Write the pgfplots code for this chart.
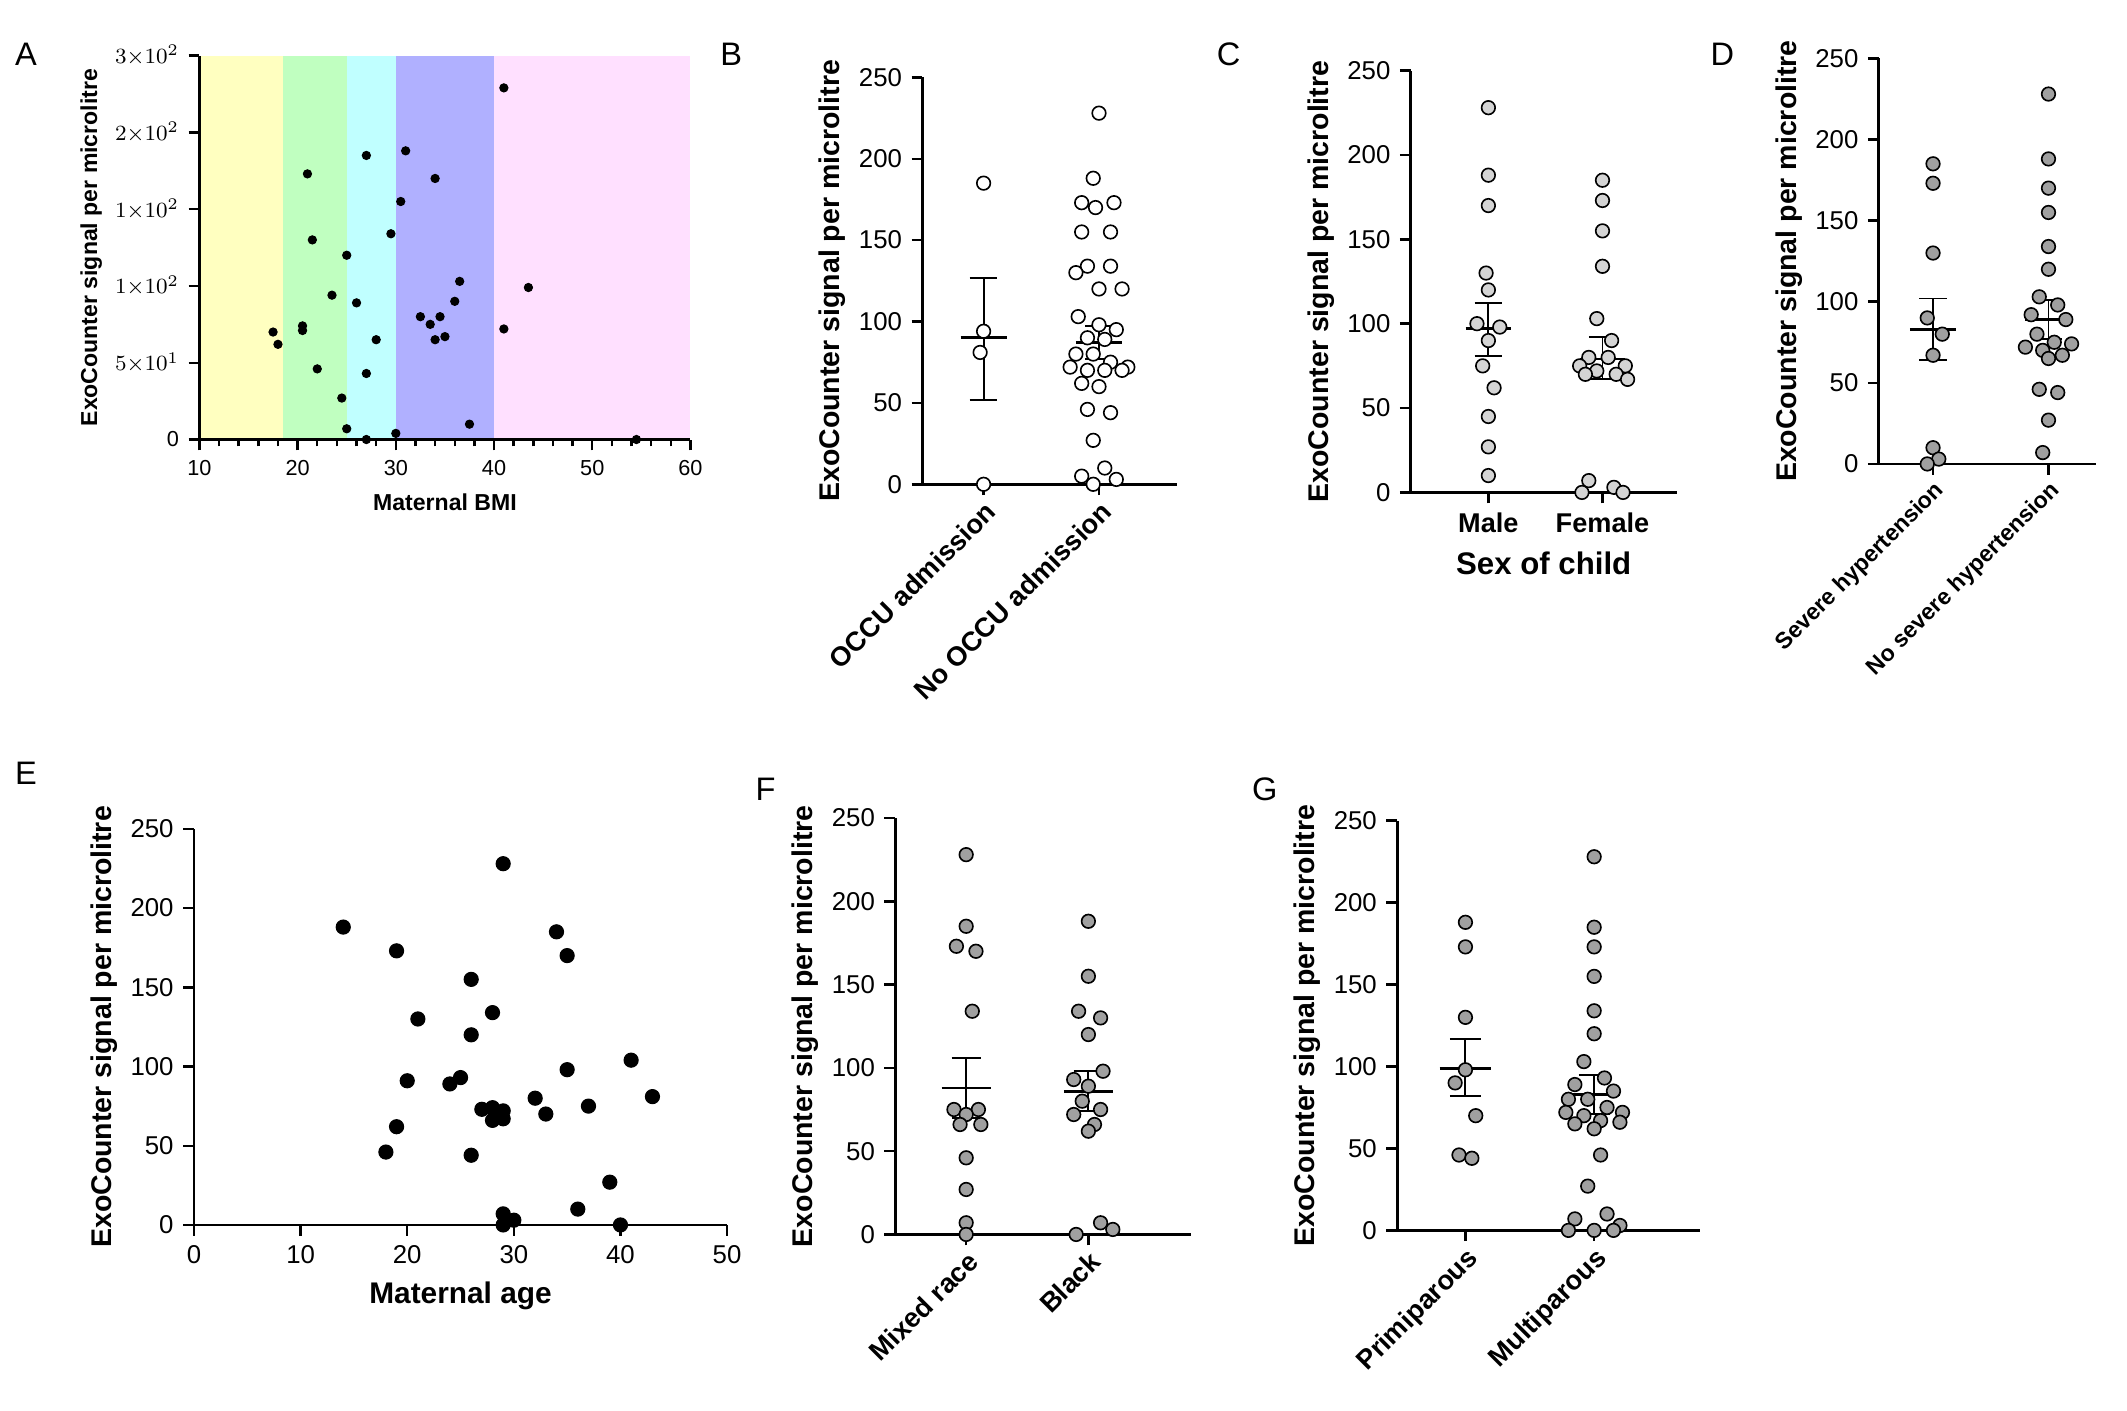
\documentclass[border=0pt]{standalone}
\usepackage{pgfplots}
\pgfplotsset{compat=1.18}
\usepackage{fontspec}
\setmainfont{Liberation Sans}
\definecolor{ptgray}{HTML}{A0A0A0}
\definecolor{ltgray}{HTML}{D4D4D4}
\definecolor{bA}{HTML}{FFFFC0}
\definecolor{bB}{HTML}{C0FFC0}
\definecolor{bC}{HTML}{C0FFFF}
\definecolor{bD}{HTML}{B0B0FF}
\definecolor{bE}{HTML}{FFE0FF}
\pgfplotsset{
 panel/.style={scale only axis, axis x line*=bottom, axis y line*=left,
  axis line style={line width=1pt}, tick style={line width=0.9pt,black},
  tick align=outside, major tick length=4pt, clip=false,
  ymin=0, ymax=250, ytick={0,50,...,250},
  /pgf/number format/assume math mode=true,
  ticklabel style={font=\fontsize{9.5}{11}\selectfont},
  ylabel style={font=\fontsize{10.5}{12}\selectfont\bfseries, yshift=-2pt},
  xlabel style={font=\fontsize{11}{13}\selectfont\bfseries}},
 cat/.style={xtick={1,2}, xticklabel style={font=\fontsize{10}{12}\selectfont\bfseries, rotate=45, anchor=north east, inner sep=1pt}},
 dots/.style={only marks, mark=*, mark size=2.5pt, mark options={draw=black, line width=0.6pt, fill=#1}},
}
\newcommand{\sem}[4]{%
 \addplot[black,line width=1pt] coordinates {(#1-0.2,#2)(#1+0.2,#2)};
 \addplot[black,line width=0.7pt] coordinates {(#1,#3)(#1,#4)};
 \addplot[black,line width=0.7pt] coordinates {(#1-0.12,#3)(#1+0.12,#3)};
 \addplot[black,line width=0.7pt] coordinates {(#1-0.12,#4)(#1+0.12,#4)};}
\begin{document}
\begin{tikzpicture}
\useasboundingbox (0,0) rectangle (784pt,-520pt);
\tikzset{lab/.style={font=\fontsize{12}{14}\selectfont, anchor=west}}
\node[lab] at (2pt,-20pt) {A};
\node[lab] at (262pt,-20pt) {B};
\node[lab] at (445pt,-20pt) {C};
\node[lab] at (627pt,-20pt) {D};
\node[lab] at (2pt,-285pt) {E};
\node[lab] at (275pt,-291pt) {F};
\node[lab] at (458pt,-291pt) {G};
% A
\begin{axis}[panel, at={(73.5pt,-162pt)}, width=181pt, height=141.5pt,
 xmin=10, xmax=60, xtick={10,20,...,60}, minor x tick num=4, minor tick length=2.5pt,
 yticklabels={0,$5{\times}10^1$,$1{\times}10^2$,$1{\times}10^2$,$2{\times}10^2$,$3{\times}10^2$},
 ticklabel style={font=\fontsize{8}{9}\selectfont},
 ylabel={ExoCounter signal per microlitre}, xlabel={Maternal BMI},
 ylabel style={font=\fontsize{8.5}{10}\selectfont\bfseries},
 xlabel style={font=\fontsize{8.5}{10}\selectfont\bfseries}, axis on top]
\fill[bA] (10,0) rectangle (18.5,250);
\fill[bB] (18.5,0) rectangle (25,250);
\fill[bC] (25,0) rectangle (30,250);
\fill[bD] (30,0) rectangle (40,250);
\fill[bE] (40,0) rectangle (60,250);
\addplot[only marks, mark=*, mark size=1.5pt, black] coordinates {
(17.5,70)(18,62)(21,173)(20.5,74)(20.5,71)(21.5,130)(22,46)(23.5,94)(24.5,27)
(25,120)(25,7)(26,89)(27,185)(27,43)(27,0)(28,65)(29.5,134)(30,4)(30.5,155)
(31,188)(32.5,80)(33.5,75)(34,170)(34,65)(34.5,80)(35,67)(36,90)(36.5,103)
(37.5,10)(41,229)(41,72)(43.5,99)(54.5,0)};
\end{axis}
% B
\begin{axis}[panel, cat, at={(340pt,-178.5pt)}, width=94pt, height=150pt,
 xmin=0.47, xmax=2.68, xticklabels={OCCU admission,No OCCU admission},
 ylabel={ExoCounter signal per microlitre}]
\addplot[dots=white] coordinates {(1,185)(1,94)(0.97,81)(1,0)};
\addplot[dots=white] coordinates {(2.00,228)(1.95,188)(1.85,173)(2.13,173)(1.97,170)(1.85,155)(2.1,155)(1.9,134)(2.1,134)(1.8,130)(2.0,120)(2.2,120)(1.82,103)(2.0,98)(2.15,95)(1.9,90)(2.05,89)(1.8,80)(1.95,80)(2.1,75)(2.25,72)(1.75,72)(1.9,70)(2.05,70)(2.2,70)(1.85,62)(2.0,60)(1.9,46)(2.1,44)(1.95,27)(2.05,10)(1.85,5)(2.15,3)(1.95,0)};
\sem{1}{90}{52}{127}
\sem{2}{87}{77}{97}
\end{axis}
% C
\begin{axis}[panel, at={(520pt,-181.5pt)}, width=98pt, height=155.5pt,
 xmin=0.32, xmax=2.65, xtick={1,2}, xticklabels={Male,Female},
 xticklabel style={font=\fontsize{10}{12}\selectfont\bfseries},
 xlabel={Sex of child}, xlabel style={font=\fontsize{11.5}{13}\selectfont\bfseries},
 ylabel={ExoCounter signal per microlitre}]
\addplot[dots=ltgray] coordinates {(1,228)(1,188)(1,170)(0.98,130)(1,120)(0.9,100)(1.1,98)(1.0,90)(0.95,75)(1.05,62)(1,45)(1,27)(1,10)};
\addplot[dots=ltgray] coordinates {(2,185)(2,173)(2,155)(2,134)(1.95,103)(2.08,90)(1.88,80)(2.05,80)(1.8,75)(2.2,75)(1.95,72)(2.12,70)(1.85,70)(2.22,67)(1.88,7)(2.1,3)(1.82,0)(2.18,0)};
\sem{1}{97}{81}{112}
\sem{2}{79}{67}{92}
\end{axis}
% D
\begin{axis}[panel, cat, at={(692.5pt,-171pt)}, width=80pt, height=149.5pt,
 xmin=0.53, xmax=2.41, xticklabels={Severe hypertension,No severe hypertension},
 xticklabel style={font=\fontsize{8.5}{10}\selectfont\bfseries},
 ylabel={ExoCounter signal per microlitre}]
\addplot[dots=ptgray] coordinates {(1,185)(1,173)(1,130)(0.95,90)(1.08,80)(1,67)(1,10)(1.05,3)(0.95,0)};
\addplot[dots=ptgray] coordinates {(2,228)(2,188)(2,170)(2,155)(2,134)(2,120)(1.92,103)(2.08,98)(1.85,92)(2.15,89)(1.9,80)(2.05,75)(2.2,74)(1.8,72)(1.95,70)(2.12,67)(2,65)(1.92,46)(2.08,44)(2,27)(1.95,7)};
\sem{1}{83}{64}{102}
\sem{2}{89}{77}{101}
\end{axis}
% E
\begin{axis}[panel, at={(71.5pt,-451.5pt)}, width=196.5pt, height=146pt,
 xmin=0, xmax=50, xtick={0,10,...,50}, mark size=2.6pt,
 ylabel={ExoCounter signal per microlitre}, xlabel={Maternal age}]
\addplot[only marks, mark=*, black] coordinates {
(14,188)(19,173)(21,130)(20,91)(19,62)(18,46)(24,89)(25,93)(26,155)(26,120)(26,44)
(28,134)(27,73)(28,74)(28,66)(29,72)(29,67)(29,228)(29,7)(30,3)(29,0)(32,80)(33,70)
(34,185)(35,170)(35,98)(37,75)(36,10)(39,27)(40,0)(41,104)(43,81)};
\end{axis}
% F
\begin{axis}[panel, cat, at={(330pt,-455pt)}, width=109pt, height=153.5pt,
 xmin=0.42, xmax=2.84, xticklabels={Mixed race,Black},
 ylabel={ExoCounter signal per microlitre}]
\addplot[dots=ptgray] coordinates {(1,228)(1,185)(0.92,173)(1.08,170)(1.05,134)(0.9,75)(1.1,75)(1.0,72)(0.95,66)(1.12,66)(1,46)(1,27)(1,7)(1,0)};
\addplot[dots=ptgray] coordinates {(2,188)(2,155)(1.92,134)(2.1,130)(2.0,120)(2.12,98)(1.88,93)(2,89)(1.95,80)(2.1,75)(1.88,72)(2.05,66)(2,62)(2.1,7)(2.2,3)(1.9,0)};
\sem{1}{88}{70}{106}
\sem{2}{86}{74}{98}
\end{axis}
% G
\begin{axis}[panel, cat, at={(515pt,-453.5pt)}, width=111.5pt, height=151pt,
 xmin=0.47, xmax=2.82, xticklabels={Primiparous,Multiparous},
 ylabel={ExoCounter signal per microlitre}]
\addplot[dots=ptgray] coordinates {(1,188)(1,173)(1,130)(1,98)(0.92,90)(1.08,70)(0.95,46)(1.05,44)};
\addplot[dots=ptgray] coordinates {(2,228)(2,185)(2,173)(2,155)(2,134)(2,120)(1.92,103)(2.08,93)(1.85,89)(2.15,85)(1.8,80)(1.95,80)(2.1,75)(2.22,72)(1.78,72)(1.92,70)(2.05,67)(2.2,66)(1.85,65)(2,62)(2.05,46)(1.95,27)(2.1,10)(1.85,7)(2.2,3)(1.8,0)(2.0,0)(2.15,0)};
\sem{1}{99}{82}{117}
\sem{2}{83}{71}{95}
\end{axis}
\end{tikzpicture}
\end{document}
